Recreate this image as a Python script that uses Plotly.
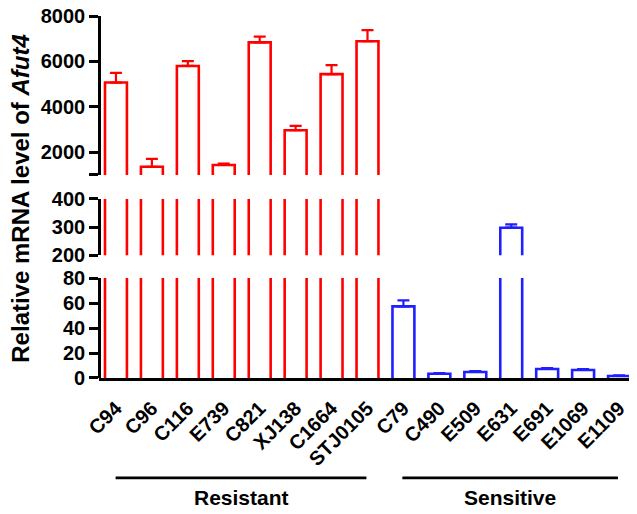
import plotly.graph_objects as go

resistant = ["C94", "C96", "C116", "E739", "C821", "XJ138", "C1664", "STJ0105"]
resistant_vals = [5070, 1360, 5800, 1440, 6840, 2970, 5440, 6890]
resistant_err = [430, 350, 210, 60, 250, 190, 400, 490]

sensitive = ["C79", "C490", "E509", "E631", "E691", "E1069", "E1109"]
sensitive_vals = [57.3, 3.4, 4.8, 298, 7.2, 6.4, 1.6]
sensitive_err = [4.8, 0.6, 0.8, 12, 0.8, 0.8, 0.5]

categories = resistant + sensitive

top_ticks = [1000, 2000, 4000, 6000, 8000]
top_ticktext = ["", "2000", "4000", "6000", "8000"]
mid_ticks = [200, 300, 400]
low_ticks = [0, 20, 40, 60, 80]

FONT = "Liberation Sans, Arial, sans-serif"
RED = "#FF0000"
BLUE = "#1F1FFF"
HALF = 0.305  # half bar width in category units

fig = go.Figure()


def outline(positions, values):
    xs, ys = [], []
    for p, v in zip(positions, values):
        xs += [p - HALF, p - HALF, p + HALF, p + HALF, None]
        ys += [0, v, v, 0, None]
    return xs, ys


groups_data = [
    (list(range(len(resistant))), resistant_vals, resistant_err, RED),
    (list(range(len(resistant), len(categories))), sensitive_vals, sensitive_err, BLUE),
]

for yax in ["y", "y2", "y3"]:
    for pos, vals, errs, col in groups_data:
        xs, ys = outline(pos, vals)
        fig.add_trace(go.Scatter(
            x=xs, y=ys, xaxis="x", yaxis=yax, mode="lines",
            line=dict(color=col, width=2.6), connectgaps=False,
            showlegend=False, hoverinfo="skip",
        ))
        fig.add_trace(go.Scatter(
            x=pos, y=vals, xaxis="x", yaxis=yax, mode="markers",
            marker=dict(size=1, opacity=0),
            error_y=dict(type="data", symmetric=False, array=errs,
                         arrayminus=[0] * len(errs), color=col,
                         thickness=2.2, width=6),
            showlegend=False,
        ))

axis_common = dict(
    showline=True, linecolor="black", linewidth=2.6,
    ticks="outside", ticklen=9, tickwidth=2.6, tickcolor="black",
    showgrid=False, zeroline=False, automargin=False,
    ticklabeloverflow="allow",
    tickfont=dict(family=FONT, size=20, color="black", weight="bold"),
    anchor="free", position=0,
)

fig.update_layout(
    width=629, height=506,
    margin=dict(l=91, r=0, t=8, b=136),
    plot_bgcolor="white", paper_bgcolor="white",
    xaxis=dict(
        range=[-0.472, 14.5],
        tickvals=list(range(len(categories))), ticktext=categories,
        showline=True, linecolor="black", linewidth=2.6,
        ticks="outside", ticklen=8, tickcolor="rgba(0,0,0,0)",
        tickangle=-45, showgrid=False, zeroline=False, automargin=False,
        ticklabeloverflow="allow",
        tickfont=dict(family=FONT, size=20, color="black", weight="bold"),
        anchor="y",
    ),
    yaxis=dict(domain=[0, 0.2762], range=[0, 80], tickvals=low_ticks, **axis_common),
    yaxis2=dict(domain=[0.339, 0.4945], range=[200, 400], tickvals=mid_ticks, **axis_common),
    yaxis3=dict(domain=[0.5608, 1], range=[1000, 8000], tickvals=top_ticks,
                ticktext=top_ticktext, **axis_common),
)

fig.add_annotation(
    text="<b>Relative mRNA level of <i>Afut4</i></b>",
    xref="paper", yref="paper", x=-0.145, y=0.498,
    xanchor="center", yanchor="middle", textangle=-90, showarrow=False,
    font=dict(family=FONT, size=24, color="black"),
)

group_lines = [("Resistant", -0.01, 6.97), ("Sensitive", 7.97, 13.97)]
for label, x0, x1 in group_lines:
    fig.add_shape(type="line", xref="x", yref="paper", x0=x0, x1=x1,
                  y0=-0.276, y1=-0.276, line=dict(color="black", width=2.6))
    fig.add_annotation(text="<b>" + label + "</b>", xref="x", yref="paper",
                       x=(x0 + x1) / 2, y=-0.331, showarrow=False,
                       xanchor="center", yanchor="middle",
                       font=dict(family=FONT, size=21, color="black"))

fig.write_html("out.html")
